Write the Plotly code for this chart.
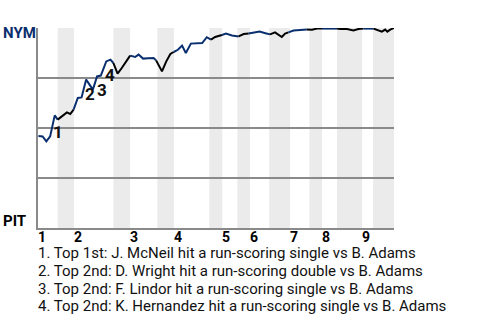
import plotly.graph_objects as go

# Win probability for NYM by game event (0 = PIT wins, 1 = NYM wins)
event = [0.1, 1.1, 2.0, 2.9, 4.0, 4.7, 5.7, 6.9, 7.7, 8.5, 9.5, 10.4, 11.5, 12.3, 13.1, 14.1,
         15.0, 16.3, 17.3, 18.0, 19.0, 20.0, 21.1, 22.0, 23.2, 24.0, 25.1, 26.3, 27.6, 28.2,
         29.6, 30.6, 31.6, 32.4, 33.4, 34.4, 35.3, 36.5, 37.8, 39.2, 40.3, 41.3, 42.3, 43.9,
         44.9, 46.3, 47.9, 49.1, 50.3, 51.6, 52.9, 54.3, 55.4, 56.6, 58.2, 59.0, 59.8, 61.0,
         62.6, 64.2, 65.4, 66.6, 67.8, 71.4, 72.2, 73.8, 75.3, 76.5, 77.7, 80.1, 81.3, 82.1,
         82.9, 83.4, 84.1, 85.0]
wp_nym = [0.46, 0.458, 0.433, 0.458, 0.563, 0.542, 0.558, 0.578, 0.570, 0.592, 0.650, 0.653,
          0.742, 0.717, 0.692, 0.758, 0.762, 0.833, 0.842, 0.825, 0.772, 0.800, 0.832, 0.862,
          0.855, 0.867, 0.847, 0.849, 0.850, 0.838, 0.783, 0.832, 0.870, 0.880, 0.891, 0.912,
          0.875, 0.922, 0.924, 0.925, 0.954, 0.942, 0.955, 0.965, 0.972, 0.963, 0.958, 0.970,
          0.972, 0.977, 0.982, 0.974, 0.968, 0.978, 0.955, 0.972, 0.978, 0.987, 0.990, 0.992,
          0.991, 0.997, 0.997, 0.997, 0.995, 0.995, 0.988, 0.995, 0.997, 0.997, 0.988, 0.982,
          0.992, 0.982, 0.992, 1.0]

# Inning starts (top half) and bottom-half spans, in event units
inning_labels = ["1", "2", "3", "4", "5", "6", "7", "8", "9"]
inning_start = [0, 8.6, 22.0, 32.45, 44.0, 50.6, 60.2, 67.8, 77.4]
bottom_start = [4.7, 18.0, 28.5, 40.9, 47.6, 55.2, 64.8, 71.4, 80.0]
bottom_end = [8.6, 22.0, 32.45, 44.0, 50.6, 60.2, 67.8, 77.4, 85.0]

# Scoring-play markers
marker_labels = ["1", "2", "3", "4"]
marker_event = [4.85, 12.45, 15.3, 17.3]
marker_wp = [0.48, 0.671, 0.69, 0.766]
notes = [
    "1. Top 1st: J. McNeil hit a run-scoring single vs B. Adams",
    "2. Top 2nd: D. Wright hit a run-scoring double vs B. Adams",
    "3. Top 2nd: F. Lindor hit a run-scoring single vs B. Adams",
    "4. Top 2nd: K. Hernandez hit a run-scoring single vs B. Adams",
]

NYM_BLUE = "#0a2f6e"
BAND = "#ebebeb"
GRID = "#8a8a8a"
FONT = "Roboto"

fig = go.Figure()


def in_bottom(x):
    return any(s <= x < e for s, e in zip(bottom_start, bottom_end))


# Group consecutive segments by batting team
segs = []
for i in range(len(event) - 1):
    mid = (event[i] + event[i + 1]) / 2
    col = "black" if in_bottom(mid) else NYM_BLUE
    if segs and segs[-1][0] == col:
        segs[-1][1].append(i + 1)
    else:
        segs.append([col, [i, i + 1]])

for col, idx in segs:
    fig.add_trace(go.Scatter(
        x=[event[k] for k in idx], y=[wp_nym[k] for k in idx],
        mode="lines", line=dict(color=col, width=2), hoverinfo="skip",
        showlegend=False, cliponaxis=False))

shapes = []
for s, e in zip(bottom_start, bottom_end):
    shapes.append(dict(type="rect", xref="x", yref="paper", x0=s, x1=e, y0=0, y1=1,
                       fillcolor=BAND, line=dict(width=0), layer="below"))

ann = []
for lab, x in zip(inning_labels, inning_start):
    ann.append(dict(text=f"<b>{lab}</b>", x=x, xref="x", xanchor="left", xshift=-2,
                    y=-0.045, yref="paper", yanchor="middle", showarrow=False,
                    font=dict(family=FONT, size=14, color="black")))
for lab, x, y in zip(marker_labels, marker_event, marker_wp):
    ann.append(dict(text=f"<b>{lab}</b>", x=x, y=y, xref="x", yref="y",
                    showarrow=False, font=dict(family=FONT, size=17, color="#111")))
for k, t in enumerate(notes):
    ann.append(dict(text=t, x=0, xref="x", xanchor="left", xshift=-2,
                    y=-0.125 - k * 0.089, yref="paper", yanchor="middle", showarrow=False,
                    font=dict(family=FONT, size=15, color="#111")))
ann.append(dict(text="<b>NYM</b>", x=-0.105, xref="paper", xanchor="left", y=0.975,
                yref="paper", yanchor="middle", showarrow=False,
                font=dict(family=FONT, size=15, color=NYM_BLUE)))
ann.append(dict(text="<b>PIT</b>", x=-0.105, xref="paper", xanchor="left", y=0.037,
                yref="paper", yanchor="middle", showarrow=False,
                font=dict(family=FONT, size=15, color="black")))

fig.update_layout(
    width=480, height=320,
    margin=dict(l=38, r=86, t=28, b=92),
    paper_bgcolor="white", plot_bgcolor="white",
    shapes=shapes, annotations=ann,
    xaxis=dict(range=[0, 85], showgrid=False, zeroline=False, showticklabels=False,
               ticks="", showline=True, linecolor=GRID, linewidth=1.5),
    yaxis=dict(range=[0, 1], dtick=0.25, showgrid=True, gridcolor=GRID, gridwidth=1.5,
               zeroline=False, showticklabels=False, ticks="", showline=True,
               linecolor=GRID, linewidth=1.5),
)

fig.write_html("out.html")
